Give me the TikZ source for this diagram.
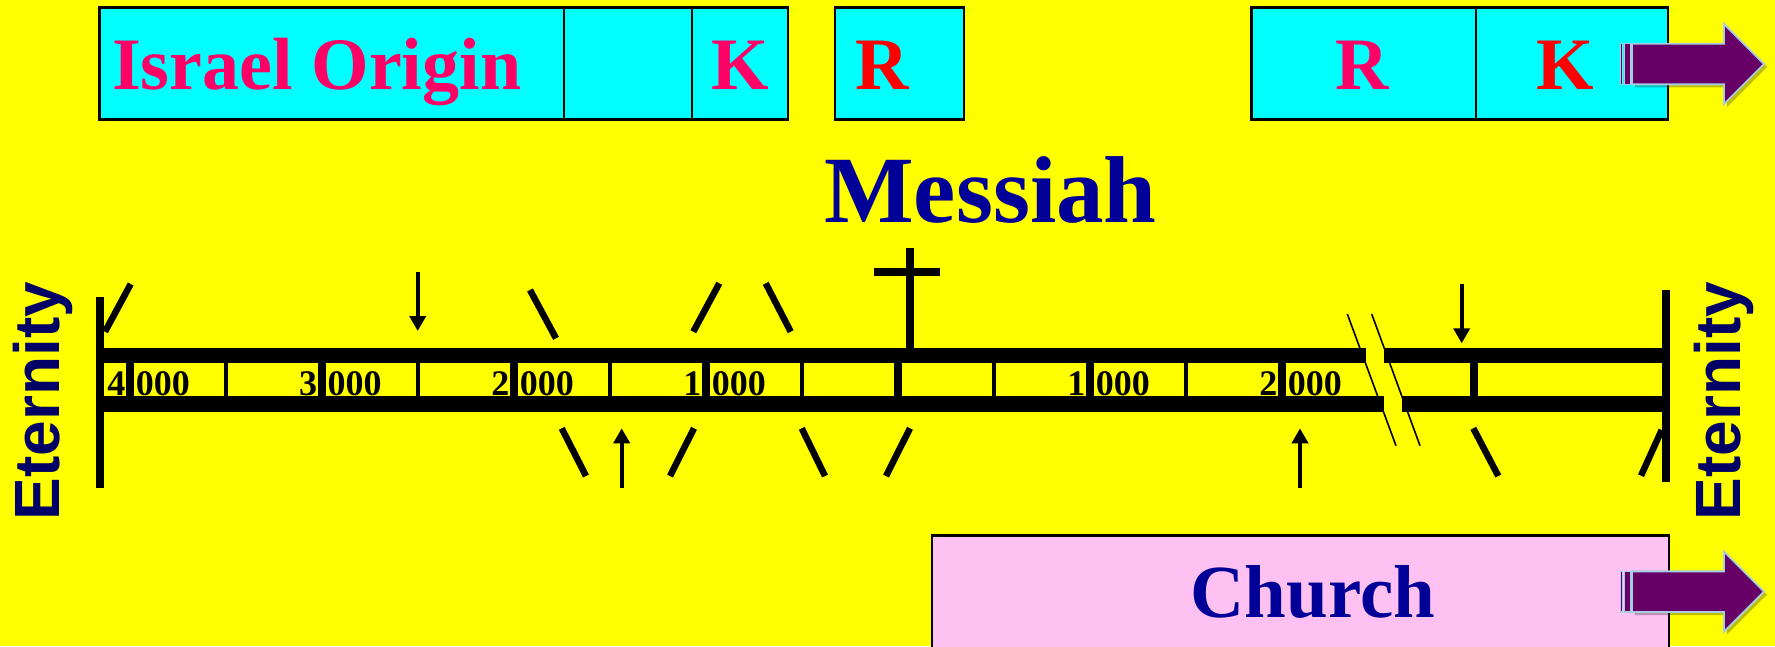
\documentclass[tikz,border=0pt]{standalone}
\usepackage{fontspec}
\setmainfont{Liberation Serif}
\newfontfamily\arialfont{Liberation Sans}
\usetikzlibrary{arrows.meta}
\definecolor{bgyellow}{HTML}{FFFF00}
\definecolor{boxcyan}{HTML}{00FFFF}
\definecolor{pinkred}{HTML}{FF0066}
\definecolor{brightred}{HTML}{FF0000}
\definecolor{navyblue}{HTML}{000099}
\definecolor{darknavy}{HTML}{000066}
\definecolor{churchpink}{HTML}{FFC0F2}
\definecolor{arrowpurple}{HTML}{660066}
\definecolor{arrowedge}{HTML}{A8CCE0}
\begin{document}
\begin{tikzpicture}[x=1pt, y={(0pt,-1pt)},
  boxframe/.style={fill=boxcyan, draw=black, line width=2.5pt},
  celldiv/.style={draw=black, line width=1.5pt},
  bigserif/.style={font=\bfseries\fontsize{74}{74}\selectfont, inner sep=0pt},
  numfont/.style={font=\bfseries\fontsize{36}{36}\selectfont, inner sep=0pt, text=black},
  eternity/.style={font=\arialfont\bfseries\fontsize{64}{64}\selectfont, text=darknavy, rotate=90, inner sep=0pt},
  slashline/.style={line width=6.5pt},
  pointer/.style={line width=4pt, -{Triangle[length=15pt,width=16pt]}},
  breakline/.style={line width=1.6pt},
  blockarrow/.pic={
    \fill[black, opacity=0.25] (15,-17.35) -- (107,-17.35) -- (107,-37) -- (147,3) -- (107,43) -- (107,23.35) -- (15,23.35) -- cycle;
    \filldraw[fill=arrowpurple, draw=arrowedge, line width=1.8pt]
      (12,-20.35) -- (104,-20.35) -- (104,-40) -- (144,0) -- (104,40) -- (104,20.35) -- (12,20.35) -- cycle;
    \filldraw[fill=arrowpurple, draw=arrowedge, line width=1.2pt] (0.5,-20.35) rectangle (2.5,20.35);
    \filldraw[fill=arrowpurple, draw=arrowedge, line width=1.2pt] (4.5,-20.35) rectangle (10.5,20.35);
  }]
\fill[bgyellow] (0,0) rectangle (1775,646);
\useasboundingbox (0,0) rectangle (1775,646);

% top boxes
\draw[boxframe] (99.3,7.3) rectangle (788,119.3);
\draw[celldiv] (564,7.3) -- (564,119.3);
\draw[celldiv] (692,7.3) -- (692,119.3);
\draw[boxframe] (835,7.3) rectangle (964,119.3);
\draw[boxframe] (1251.6,7.3) rectangle (1668,119.3);
\draw[celldiv] (1476,7.3) -- (1476,119.3);

\node[bigserif, text=pinkred, anchor=base west] (israel) at (112,89) {Israel Origin};
\node[bigserif, text=pinkred, anchor=base] (kfirst) at (740,89) {K};
\node[bigserif, text=brightred, anchor=base] (rfirst) at (882,89) {R};
\node[bigserif, text=pinkred, anchor=base] (rsecond) at (1362,89) {R};
\node[bigserif, text=brightred, anchor=base] (ksecond) at (1565,89) {K};

\pic at (1620,64) {blockarrow};

% Messiah and cross
\node[font=\bfseries\fontsize{95}{95}\selectfont, text=navyblue, inner sep=0pt, anchor=base] (messiah) at (990.5,222.7) {Messiah};
\draw[line width=8pt] (910,248.3) -- (910,350);
\draw[line width=8pt] (874,271.7) -- (940,271.7);

% timeline bars
\fill[black] (104,348) rectangle (1366,363);
\fill[black] (1384,348) rectangle (1666,363);
\fill[black] (104,396) rectangle (1384,411.5);
\fill[black] (1402,396) rectangle (1666,411.5);
\draw[line width=8pt] (100,296.7) -- (100,487.7);
\draw[line width=8pt] (1666,290) -- (1666,481.7);

% break marks
\draw[breakline] (1347.3,314) -- (1396,445.7);
\draw[breakline] (1371.7,314) -- (1420,445.7);

% cell dividers
\foreach \x/\w in {130/8,226/4,321.7/8,418/4,514/8,610/4,706/8,802/4,898/8,994/4,1090/8,1186/4,1282/8,1474/8}
  \draw[line width=\w pt] (\x,362) -- (\x,397);

% labels
\foreach \x/\d [count=\i] in {130/4,321.7/3,514/2,706/1,1090/1,1282/2} {
  \node[numfont, anchor=base east] (lead\i) at (\x-4.5,395) {\d};
  \node[numfont, anchor=base west] (zeros\i) at (\x+5.7,395) {000};
}

% slashes
\draw[slashline] (105,331.7) -- (130.7,284);
\draw[slashline] (530,290) -- (556,338.3);
\draw[slashline] (693.3,331.7) -- (719.3,283.3);
\draw[slashline] (765.7,283.3) -- (790.7,331.7);
\draw[slashline] (561.7,428.3) -- (586,476);
\draw[slashline] (694,428.3) -- (670,476);
\draw[slashline] (801.7,428.3) -- (825,476);
\draw[slashline] (910,428.3) -- (886,476);
\draw[slashline] (1473.3,428.3) -- (1498.3,476);
\draw[slashline] (1661.7,430) -- (1641,475.7);

% pointers
\draw[pointer] (417.7,272.3) -- (417.7,331);
\draw[pointer] (621.7,487.7) -- (621.7,428.3);
\draw[pointer] (1300,487.7) -- (1300,428.3);
\draw[pointer] (1461.7,284) -- (1461.7,343.3);

% Eternity
\node[eternity, anchor=base] (eternleft) at (59,401) {Eternity};
\node[eternity, anchor=base] (eternright) at (1740,401) {Eternity};

% Church
\draw[fill=churchpink, line width=2.5pt] (932,535.7) rectangle (1669,652);
\node[font=\bfseries\fontsize{75}{75}\selectfont, text=navyblue, inner sep=0pt, anchor=base] (church) at (1313,617) {Church};
\pic at (1620,591.7) {blockarrow};
\end{tikzpicture}
\end{document}
